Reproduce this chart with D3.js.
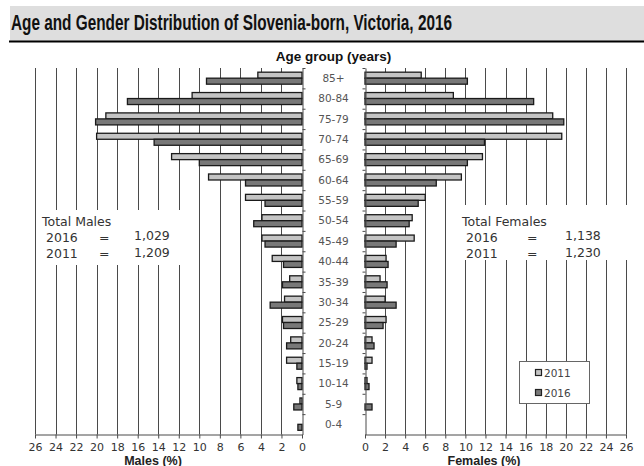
<!DOCTYPE html>
<html>
<head>
<meta charset="UTF-8">
<title>Slovenia-born, Victoria, 2016</title>
<script src="https://d3js.org/d3.v7.min.js"></script>
<style>
  body { margin: 0; background: #fff; }
  svg { display: block; }
</style>
</head>
<body>
<script>
  // age groups, oldest at the top
  var ages = ["85+", "80-84", "75-79", "70-74", "65-69", "60-64", "55-59", "50-54", "45-49",
              "40-44", "35-39", "30-34", "25-29", "20-24", "15-19", "10-14", "5-9", "0-4"];
  var years = ["2011", "2016"];

  // percent of each sex, same order as ages
  var males2011 = [4.3, 10.7, 19.1, 20.0, 12.7, 9.1, 5.5, 3.9, 3.9, 2.9, 1.2, 1.7, 1.9, 1.1, 1.5, 0.5, 0.2, 0];
  var males2016 = [9.3, 17.0, 20.1, 14.4, 10.0, 5.5, 3.6, 4.7, 3.6, 1.8, 1.9, 3.1, 1.8, 1.5, 0.5, 0.4, 0.8, 0.4];
  var females2011 = [5.6, 8.8, 18.7, 19.6, 11.7, 9.6, 6.0, 4.7, 4.9, 2.1, 1.5, 2.0, 2.1, 0.7, 0.7, 0.2, 0, 0];
  var females2016 = [10.2, 16.8, 19.8, 11.9, 10.2, 7.1, 5.3, 4.4, 3.1, 2.3, 2.2, 3.1, 1.8, 0.9, 0.2, 0.4, 0.7, 0];

  var xTicks = d3.range(0, 27, 2);

  var totalsMale = [["2016", "1,029"], ["2011", "1,209"]];
  var totalsFemale = [["2016", "1,138"], ["2011", "1,230"]];

  var W = 644, H = 466;
  var lightFill = "#c4c4c4", darkFill = "#787878", gridCol = "#4a4a4a";
  var labFont = "'DejaVu Sans', Verdana, sans-serif";

  var svg = d3.select("body").append("svg").attr("width", W).attr("height", H);

  // title band
  svg.append("rect").attr("x", 10).attr("y", 6).attr("width", W - 10).attr("height", 35).attr("fill", "#dedede");
  svg.append("line").attr("x1", 9).attr("x2", W).attr("y1", 41.5).attr("y2", 41.5)
    .attr("stroke", "#000").attr("stroke-width", 2);
  svg.append("text").attr("x", 11).attr("y", 30)
    .attr("textLength", 441).attr("lengthAdjust", "spacingAndGlyphs")
    .style("font-family", "'Liberation Sans Narrow', 'Arial Narrow', 'Liberation Sans', Arial, sans-serif")
    .style("font-weight", "bold").style("font-size", "22px").attr("fill", "#111")
    .text("Age and Gender Distribution of Slovenia-born, Victoria, 2016");

  var plotTop = 68, plotBottom = 434.5;
  var xL = d3.scaleLinear().domain([0, 26]).range([302, 35]);
  var xR = d3.scaleLinear().domain([0, 26]).range([365, 626]);
  var y = d3.scaleBand().domain(ages).range([plotTop, plotBottom]);
  var yIn = d3.scaleBand().domain(years).range([y.bandwidth() / 2 - 6, y.bandwidth() / 2 + 6]);

  // gridlines
  var grid = svg.append("g").attr("stroke", gridCol).attr("stroke-width", 1);
  grid.selectAll(".gl").data(xTicks.slice(1)).enter().append("line")
    .attr("x1", function(d) { return Math.round(xL(d)) + 0.5; })
    .attr("x2", function(d) { return Math.round(xL(d)) + 0.5; })
    .attr("y1", plotTop).attr("y2", plotBottom);
  grid.selectAll(".gr").data(xTicks.slice(1)).enter().append("line")
    .attr("x1", function(d) { return Math.round(xR(d)) + 0.5; })
    .attr("x2", function(d) { return Math.round(xR(d)) + 0.5; })
    .attr("y1", plotTop).attr("y2", plotBottom);

  // white boxes behind totals
  svg.append("rect").attr("x", 38).attr("y", 210).attr("width", 152).attr("height", 55).attr("fill", "#fff");
  svg.append("rect").attr("x", 455).attr("y", 205).attr("width", 180).attr("height", 55).attr("fill", "#fff");

  function drawBars(xs, v2011, v2016) {
    var rows = ages.map(function(a, i) { return { age: a, v: [v2011[i], v2016[i]] }; });
    var g = svg.append("g");
    rows.forEach(function(r) {
      years.forEach(function(yr, j) {
        if (!r.v[j]) return;
        var x0 = xs(0), x1 = xs(r.v[j]);
        g.append("rect")
          .attr("x", Math.min(x0, x1)).attr("width", Math.abs(x1 - x0))
          .attr("y", y(r.age) + yIn(yr)).attr("height", yIn.bandwidth())
          .attr("fill", j === 0 ? lightFill : darkFill)
          .attr("stroke", "#1a1a1a").attr("stroke-width", 1.3);
      });
    });
  }
  drawBars(xL, males2011, males2016);
  drawBars(xR, females2011, females2016);

  // axes
  var axL = svg.append("g").attr("transform", "translate(0," + plotBottom + ")")
    .call(d3.axisBottom(xL).tickValues(xTicks).tickSize(4).tickSizeOuter(0));
  var axR = svg.append("g").attr("transform", "translate(0," + plotBottom + ")")
    .call(d3.axisBottom(xR).tickValues(xTicks).tickSize(4).tickSizeOuter(0));
  [axL, axR].forEach(function(ax) {
    ax.select(".domain").attr("stroke", gridCol);
    ax.selectAll(".tick line").attr("stroke", gridCol);
    ax.selectAll("text").attr("fill", "#333").attr("dy", "0.9em")
      .style("font-family", labFont).style("font-size", "11px");
  });

  var ayL = svg.append("g").attr("transform", "translate(" + (xL(0) + 0.5) + ",0)")
    .call(d3.axisRight(y).tickSize(3).tickSizeOuter(0).tickFormat(""));
  var ayR = svg.append("g").attr("transform", "translate(" + (xR(0) + 0.5) + ",0)")
    .call(d3.axisLeft(y).tickSize(3).tickSizeOuter(0).tickFormat(""));
  [ayL, ayR].forEach(function(ax) {
    ax.select(".domain").attr("stroke", gridCol);
    ax.selectAll(".tick").attr("transform", function(d) { return "translate(0," + (y(d) + 0.5) + ")"; });
    ax.selectAll(".tick line").attr("stroke", gridCol);
  });

  // age labels in the middle
  svg.append("g").selectAll("text").data(ages).enter().append("text")
    .attr("x", 333.5).attr("y", function(d) { return y(d) + y.bandwidth() / 2; })
    .attr("dy", "0.36em").attr("text-anchor", "middle")
    .style("font-family", labFont).style("font-size", "10.5px").attr("fill", "#555")
    .text(function(d) { return d; });

  var boldFont = "'Liberation Sans', Arial, sans-serif";
  svg.append("text").attr("x", 333.5).attr("y", 61).attr("text-anchor", "middle")
    .style("font-family", boldFont).style("font-weight", "bold").style("font-size", "13.5px")
    .attr("fill", "#111").text("Age group (years)");
  svg.append("text").attr("x", 153).attr("y", 464.5).attr("text-anchor", "middle")
    .style("font-family", boldFont).style("font-weight", "bold").style("font-size", "12.5px")
    .attr("fill", "#222").text("Males (%)");
  svg.append("text").attr("x", 484).attr("y", 464.5).attr("text-anchor", "middle")
    .style("font-family", boldFont).style("font-weight", "bold").style("font-size", "12.5px")
    .attr("fill", "#222").text("Females (%)");

  // totals
  function totals(x, label, rows, xEq, xNum) {
    var g = svg.append("g").style("font-family", labFont).style("font-size", "12.5px").attr("fill", "#333");
    g.append("text").attr("x", x).attr("y", 226).text(label);
    g.selectAll(".r").data(rows).enter().append("text")
      .attr("x", x + 4).attr("y", function(d, i) { return 242 + i * 16; })
      .text(function(d) { return d[0]; });
    g.selectAll(".e").data(rows).enter().append("text")
      .attr("x", xEq).attr("y", function(d, i) { return 242 + i * 16; })
      .text("=");
    g.selectAll(".n").data(rows).enter().append("text")
      .attr("x", xNum).attr("y", function(d, i) { return 240 + i * 17; })
      .text(function(d) { return d[1]; });
  }
  totals(42, "Total Males", totalsMale, 99, 134);
  totals(462, "Total Females", totalsFemale, 527, 565);

  // legend
  var lg = svg.append("g");
  lg.append("rect").attr("x", 519.5).attr("y", 361.5).attr("width", 70).attr("height", 42)
    .attr("fill", "#fff").attr("stroke", "#666");
  years.forEach(function(yr, j) {
    var yy = 373 + j * 20;
    lg.append("rect").attr("x", 535.5).attr("y", yy - 3.5).attr("width", 6).attr("height", 6)
      .attr("fill", j === 0 ? lightFill : darkFill).attr("stroke", "#222").attr("stroke-width", 1.2);
    lg.append("text").attr("x", 544).attr("y", yy).attr("dy", "0.36em")
      .style("font-family", labFont).style("font-size", "10.5px").attr("fill", "#444").text(yr);
  });
</script>
</body>
</html>
